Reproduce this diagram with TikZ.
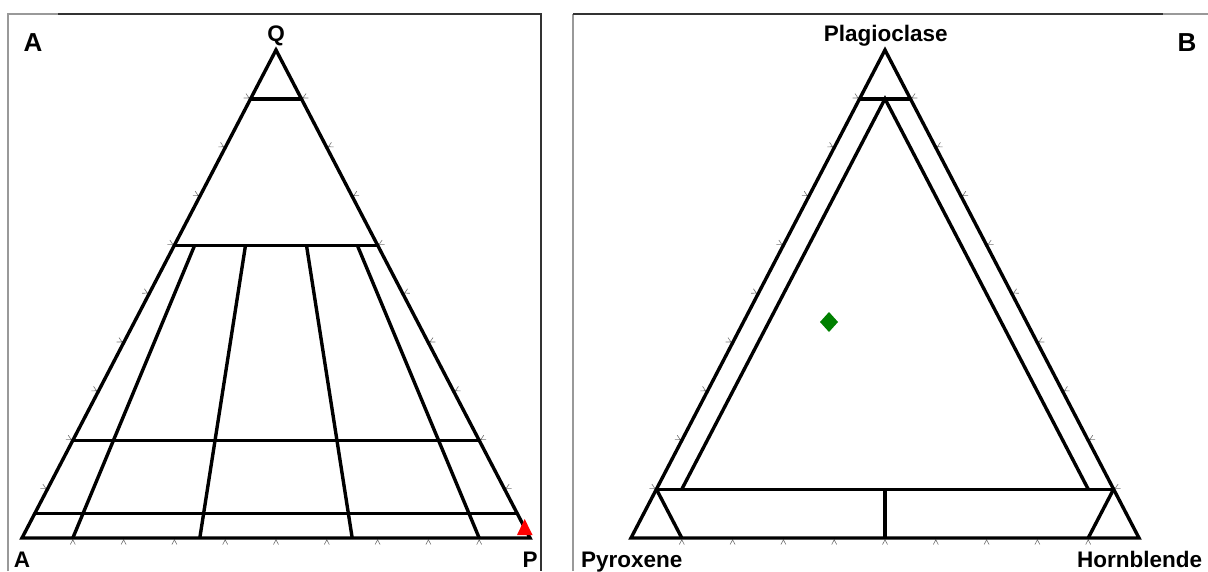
\documentclass[tikz,border=0pt]{standalone}
\usepackage{fontspec}
\setmainfont{Liberation Sans}
\usetikzlibrary{calc}
\begin{document}
\begin{tikzpicture}[x=1pt,y=-1pt,
  tri/.style={line width=3.4pt,black},
  frame/.style={line width=1.4pt,black!80},
  framelight/.style={line width=1.4pt,black!40},
  tk/.style={line width=0.6pt,black!55},
  lbl/.style={font=\fontsize{22.5}{27}\selectfont\bfseries,inner sep=0pt,anchor=base},
  panel/.style={font=\fontsize{26}{30}\selectfont\bfseries,inner sep=0pt,anchor=base},
  caret/.pic={\draw[tk] (-2.5,6.5) -- (0,1.8) -- (2.5,6.5);}
]
\useasboundingbox (0,0) rectangle (1208,571);
% frames
\coordinate (fa1) at (8,571); \coordinate (fa2) at (8,14); \coordinate (fa3) at (58,14);
\coordinate (fa4) at (541,14); \coordinate (fa5) at (541,571);
\draw[framelight] (fa1) -- (fa2) -- (fa3);
\draw[frame] (fa3) -- (fa4) -- (fa5);
\coordinate (fb1) at (573,571); \coordinate (fb2) at (573,14); \coordinate (fb3) at (1163,14);
\coordinate (fb4) at (1208,14);
\draw[framelight] (fb1) -- (fb2);
\draw[frame] (fb2) -- (fb3);
\draw[framelight] (fb3) -- (fb4);

% ---------- Panel A ----------
\coordinate (A) at (22,538);
\coordinate (P) at (530,538);
\coordinate (Q) at (276,50);
\foreach \k in {1,...,9}{
  \pgfmathsetmacro\fb{\k/10}\pgfmathsetmacro\fa{1-\k/10}
  \path (barycentric cs:A=\fa,P=\fb) pic{caret};
  \path (barycentric cs:A=\fa,Q=\fb) pic[rotate=-117.5]{caret};
  \path (barycentric cs:P=\fa,Q=\fb) pic[rotate=117.5]{caret};
}
\draw[tri] (A) -- (P) -- (Q) -- cycle;
\foreach \q in {0.9,0.6,0.2,0.05}{
  \pgfmathsetmacro\r{1-\q}
  \draw[tri] (barycentric cs:Q=\q,A=\r) -- (barycentric cs:Q=\q,P=\r);
}
\foreach \f in {0.1,0.35,0.65,0.9}{
  \pgfmathsetmacro\ga{1-\f}\pgfmathsetmacro\ha{0.4*(1-\f)}\pgfmathsetmacro\hp{0.4*\f}
  \draw[tri] (barycentric cs:A=\ga,P=\f) -- (barycentric cs:Q=0.6,A=\ha,P=\hp);
}
\coordinate (rt1) at (517,535); \coordinate (rt2) at (532.5,535); \coordinate (rt3) at (524.7,519);
\fill[red] (rt1) -- (rt2) -- (rt3) -- cycle;
\node[lbl] (lQ) at (276,41) {Q};
\node[lbl] (lA) at (22,567.7) {A};
\node[lbl] (lP) at (530,567.7) {P};
\node[panel] (pA) at (33,51.7) {A};

% ---------- Panel B ----------
\coordinate (Px) at (631,538);
\coordinate (Hb) at (1139,538);
\coordinate (Pl) at (885,50);
\foreach \k in {1,...,9}{
  \pgfmathsetmacro\fb{\k/10}\pgfmathsetmacro\fa{1-\k/10}
  \path (barycentric cs:Px=\fa,Hb=\fb) pic{caret};
  \path (barycentric cs:Px=\fa,Pl=\fb) pic[rotate=-117.5]{caret};
  \path (barycentric cs:Hb=\fa,Pl=\fb) pic[rotate=117.5]{caret};
}
\draw[tri] (Px) -- (Hb) -- (Pl) -- cycle;
\draw[tri] (barycentric cs:Pl=0.9,Px=0.1) -- (barycentric cs:Pl=0.9,Hb=0.1);
\draw[tri] (barycentric cs:Pl=0.1,Px=0.9) -- (barycentric cs:Pl=0.1,Hb=0.9);
\draw[tri] (barycentric cs:Pl=0.1,Px=0.85,Hb=0.05) -- (barycentric cs:Pl=0.9,Px=0.05,Hb=0.05)
  -- (barycentric cs:Pl=0.1,Px=0.05,Hb=0.85);
\draw[tri] (barycentric cs:Pl=0.1,Px=0.9) -- (barycentric cs:Px=0.9,Hb=0.1);
\draw[tri] (barycentric cs:Pl=0.1,Hb=0.9) -- (barycentric cs:Px=0.1,Hb=0.9);
\draw[tri] (barycentric cs:Pl=0.1,Px=0.45,Hb=0.45) -- (barycentric cs:Px=0.5,Hb=0.5);
\coordinate (gd) at (829,322);
\fill[green!50!black] ($(gd)+(-9,0)$) -- ($(gd)+(0,-10)$) -- ($(gd)+(9,0)$) -- ($(gd)+(0,10)$) -- cycle;
\node[lbl] (lPl) at (885.8,41.5) {Plagioclase};
\node[lbl] (lPx) at (631.7,567.7) {Pyroxene};
\node[lbl] (lHb) at (1139.7,567.7) {Hornblende};
\node[panel] (pB) at (1187,51.7) {B};
\end{tikzpicture}
\end{document}
